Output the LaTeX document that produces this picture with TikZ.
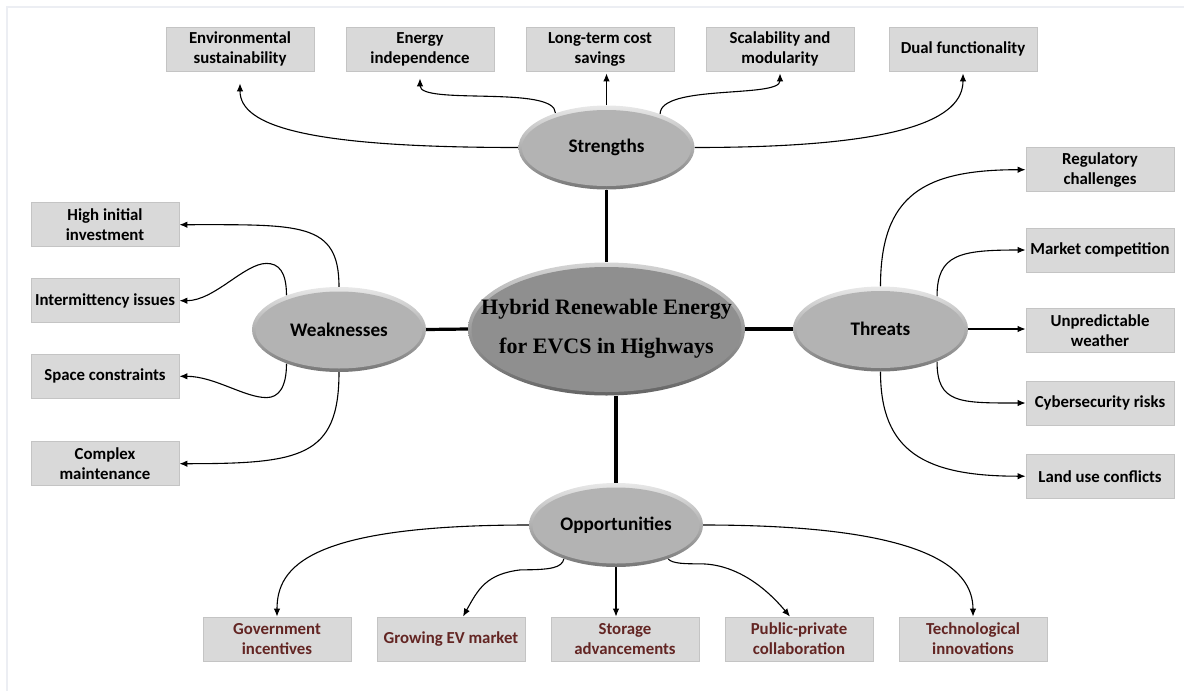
\documentclass[tikz,border=0pt]{standalone}
\usepackage{fontspec}
\setmainfont{Carlito}
\newfontfamily\serifbold{Liberation Serif}
\usetikzlibrary{shapes.geometric,arrows.meta}
\pgfdeclarelayer{background}
\pgfsetlayers{background,main}
\definecolor{boxfill}{HTML}{D9D9D9}
\definecolor{boxline}{HTML}{C4C4C4}
\definecolor{oppred}{HTML}{632523}
\definecolor{bubfill}{HTML}{B3B3B3}
\definecolor{bubtop}{HTML}{E8E8E8}
\definecolor{bubbot}{HTML}{777777}
\definecolor{cenfill}{HTML}{8F8F8F}
\definecolor{centop}{HTML}{D4D4D4}
\definecolor{cenbot}{HTML}{646464}
\definecolor{framec}{HTML}{ECEEF3}
\tikzset{
  conn/.style={line width=1.1pt,black,-{Latex[length=8pt,width=6.5pt]}},
  spoke/.style={line width=3.2pt,black},
  box/.style={rectangle,fill=boxfill,draw=boxline,line width=0.8pt,minimum width=148pt,minimum height=44pt,inner sep=0pt,align=center,font=\fontsize{16.8}{20}\selectfont\bfseries,text=black},
  obox/.style={box,text=oppred},
  smallouter/.style={top color=bubtop,bottom color=bubbot},
  bigouter/.style={top color=centop,bottom color=cenbot},
  smalltext/.style={font=\fontsize{19.2}{23}\selectfont\bfseries},
  bigtext/.style={font=\fontsize{22}{39}\selectfont\serifbold\bfseries},
}
% name, x, y, width, height, outer style, inner fill, text style, text
\newcommand{\mybubble}[9]{%
  \node[ellipse,inner sep=0pt,minimum width=#4pt,minimum height=#5pt,#6] (#1) at (#2,#3) {};
  \node[ellipse,inner sep=0pt,minimum width=#4pt-7pt,minimum height=#5pt-8pt,fill=#7] at ([yshift=-0.5pt]#1.center) {};
  \node[align=center,#8] at (#1.center) {#9};
}
\begin{document}
\begin{tikzpicture}[x=1pt,y=-1pt]
\useasboundingbox (0,0) rectangle (1184,691);
\draw[framec,line width=1.5pt] (7,691) -- (7,7) -- (1184,7);

% top boxes (strengths)
\node[box] (E1) at (240,49) {Environmental\\sustainability};
\node[box] (E2) at (420,49) {Energy\\independence};
\node[box] (E3) at (600,49) {Long-term cost\\savings};
\node[box] (E4) at (780,49) {Scalability and\\modularity};
\node[box] (E5) at (963,49) {Dual functionality};

% left boxes (weaknesses)
\node[box] (L1) at (105,224.7) {High initial\\investment};
\node[box] (L2) at (105,300.7) {Intermittency issues};
\node[box] (L3) at (105,376.3) {Space constraints};
\node[box] (L4) at (105,463.7) {Complex\\maintenance};

% right boxes (threats)
\node[box] (R1) at (1100,169.7) {Regulatory\\challenges};
\node[box] (R2) at (1100,250) {Market competition};
\node[box] (R3) at (1100,330.3) {Unpredictable\\weather};
\node[box] (R4) at (1100,403) {Cybersecurity risks};
\node[box] (R5) at (1100,476.2) {Land use conflicts};

% bottom boxes (opportunities)
\node[obox] (B1) at (277,639) {Government\\incentives};
\node[obox] (B2) at (451,639) {Growing EV market};
\node[obox] (B3) at (625,639) {Storage\\advancements};
\node[obox] (B4) at (799,639) {Public-private\\collaboration};
\node[obox] (B5) at (973,639) {Technological\\innovations};

% ellipses
\mybubble{C}{606.5}{329}{277}{133}{bigouter}{cenfill}{bigtext}{Hybrid Renewable Energy\\for EVCS in Highways}
\mybubble{S}{606.5}{147.5}{176}{84}{smallouter}{bubfill}{smalltext}{Strengths}
\mybubble{W}{339}{329.5}{174}{85}{smallouter}{bubfill}{smalltext}{Weaknesses}
\mybubble{T}{880.5}{329}{175}{85}{smallouter}{bubfill}{smalltext}{Threats}
\mybubble{O}{616}{525}{174}{84}{smallouter}{bubfill}{smalltext}{Opportunities}

\begin{pgfonlayer}{background}
% spokes
\draw[spoke] (S.south) -- (C.north);
\draw[spoke] (W.east) -- (C.west);
\draw[spoke] (C.east) -- (T.west);
\draw[spoke] (O.north) -- (O.north |- C.south);

% strengths
\draw[conn] (S.west) .. controls +(-210,0) and +(0,43) .. ([yshift=-12pt]E1.south);
\draw[conn] (S.146.7) .. controls +(0,-28) and +(0,27) .. ([yshift=-7pt]E2.south);
\draw[conn,shorten >=2pt] (S.north) -- (S.north |- E3.south);
\draw[conn] (S.32) .. controls +(0,-30) and +(0,25) .. ([yshift=-2pt]E4.south);
\draw[conn] (S.east) .. controls +(210,0) and +(0,45) .. ([yshift=-2pt]E5.south);

% weaknesses
\draw[conn] (W.north) .. controls +(0,-65) and +(121,0) .. (L1.east);
\draw[conn] (W.147) .. controls +(0,-24) and +(12,0) .. ++(-20,-32) .. controls +(-22,0) and +(35,0) .. (L2.east);
\draw[conn] (W.213) .. controls +(0,24) and +(12,0) .. ++(-20,34) .. controls +(-22,0) and +(35,0) .. (L3.east);
\draw[conn] (W.south) .. controls +(0,85) and +(121,0) .. (L4.east);

% threats
\draw[conn] (T.north) .. controls +(0,-92) and +(-101,0) .. (R1.west);
\draw[conn] (T.30) .. controls +(0,-42) and +(-66,0) .. (R2.west);
\draw[conn] (T.east) -- (T.east -| R3.west);
\draw[conn] (T.-30) .. controls +(0,42) and +(-66,0) .. (R4.west);
\draw[conn] (T.south) .. controls +(0,80) and +(-101,0) .. (R5.west);

% opportunities
\draw[conn] (O.west) .. controls +(-220,0) and +(0,-50) .. (B1.north);
\draw[conn] (O.213) .. controls +(-2,9) and +(30,0) .. ++(-43,11) .. controls +(-35,4) and +(15,-27) .. ([xshift=12pt]B2.north);
\draw[conn] (O.south) -- (O.south |- B3.north);
\draw[conn] (O.-33) .. controls +(4,5) and +(-14,0) .. ++(32,5) .. controls +(35,0) and +(-25,-30) .. ([xshift=-9pt]B4.north);
\draw[conn] (O.east) .. controls +(220,0) and +(0,-50) .. (B5.north);
\end{pgfonlayer}
\end{tikzpicture}
\end{document}
